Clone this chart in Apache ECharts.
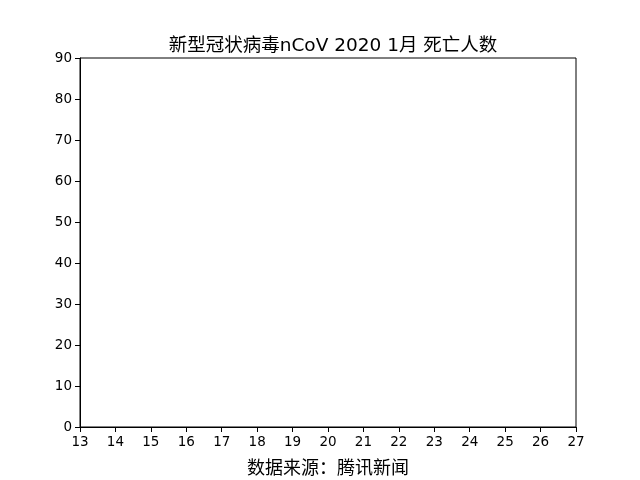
<!DOCTYPE html>
<html>
<head>
<meta charset="utf-8">
<script src="https://cdn.jsdelivr.net/npm/echarts@6/dist/echarts.min.js"></script>
<style>html,body{margin:0;padding:0;background:#fff}#c{width:640px;height:480px}</style>
</head>
<body>
<div id="c"></div>
<script>
const titleText = '新型冠状病毒nCoV 2020 1月 死亡人数';
const sourceText = '数据来源：腾讯新闻';
const days = [];
const deaths = [];
const xMin = 13, xMax = 27, xStep = 1;
const yMin = 0, yMax = 90, yStep = 10;

const chart = echarts.init(document.getElementById('c'), null, {renderer: 'canvas'});
const tickFont = {color: '#000', fontFamily: 'DejaVu Sans', fontSize: 13.5};
chart.setOption({
  backgroundColor: '#fff',
  animation: false,
  title: {
    text: titleText,
    left: 328, top: 32, textAlign: 'center',
    textStyle: {fontFamily: '"DejaVu Sans", "Noto Sans CJK SC"', fontWeight: 'normal', fontSize: 18.5, color: '#000'}
  },
  grid: {left: 80, right: 64, top: 58, bottom: 53, outerBoundsMode: 'none', containLabel: false,
    show: true, borderColor: '#000', borderWidth: 1, backgroundColor: 'transparent'},
  xAxis: {
    type: 'value', min: xMin, max: xMax, interval: xStep,
    name: sourceText, nameLocation: 'middle', nameGap: 31,
    nameTextStyle: {fontFamily: 'Noto Sans CJK SC', fontSize: 18, color: '#000'},
    axisLine: {show: true, onZero: false, lineStyle: {color: '#000', width: 1}},
    axisTick: {show: true, length: 5, inside: false, lineStyle: {color: '#000'}},
    axisLabel: Object.assign({margin: 8}, tickFont),
    splitLine: {show: false}
  },
  yAxis: {
    type: 'value', min: yMin, max: yMax, interval: yStep,
    axisLine: {show: true, onZero: false, lineStyle: {color: '#000', width: 1}},
    axisTick: {show: true, length: 5, inside: false, lineStyle: {color: '#000'}},
    axisLabel: Object.assign({margin: 8}, tickFont),
    splitLine: {show: false}
  },
  series: [{
    type: 'line',
    data: days.map((d, i) => [d, deaths[i]]),
    lineStyle: {color: '#1f77b4'}
  }]
});
</script>
</body>
</html>
